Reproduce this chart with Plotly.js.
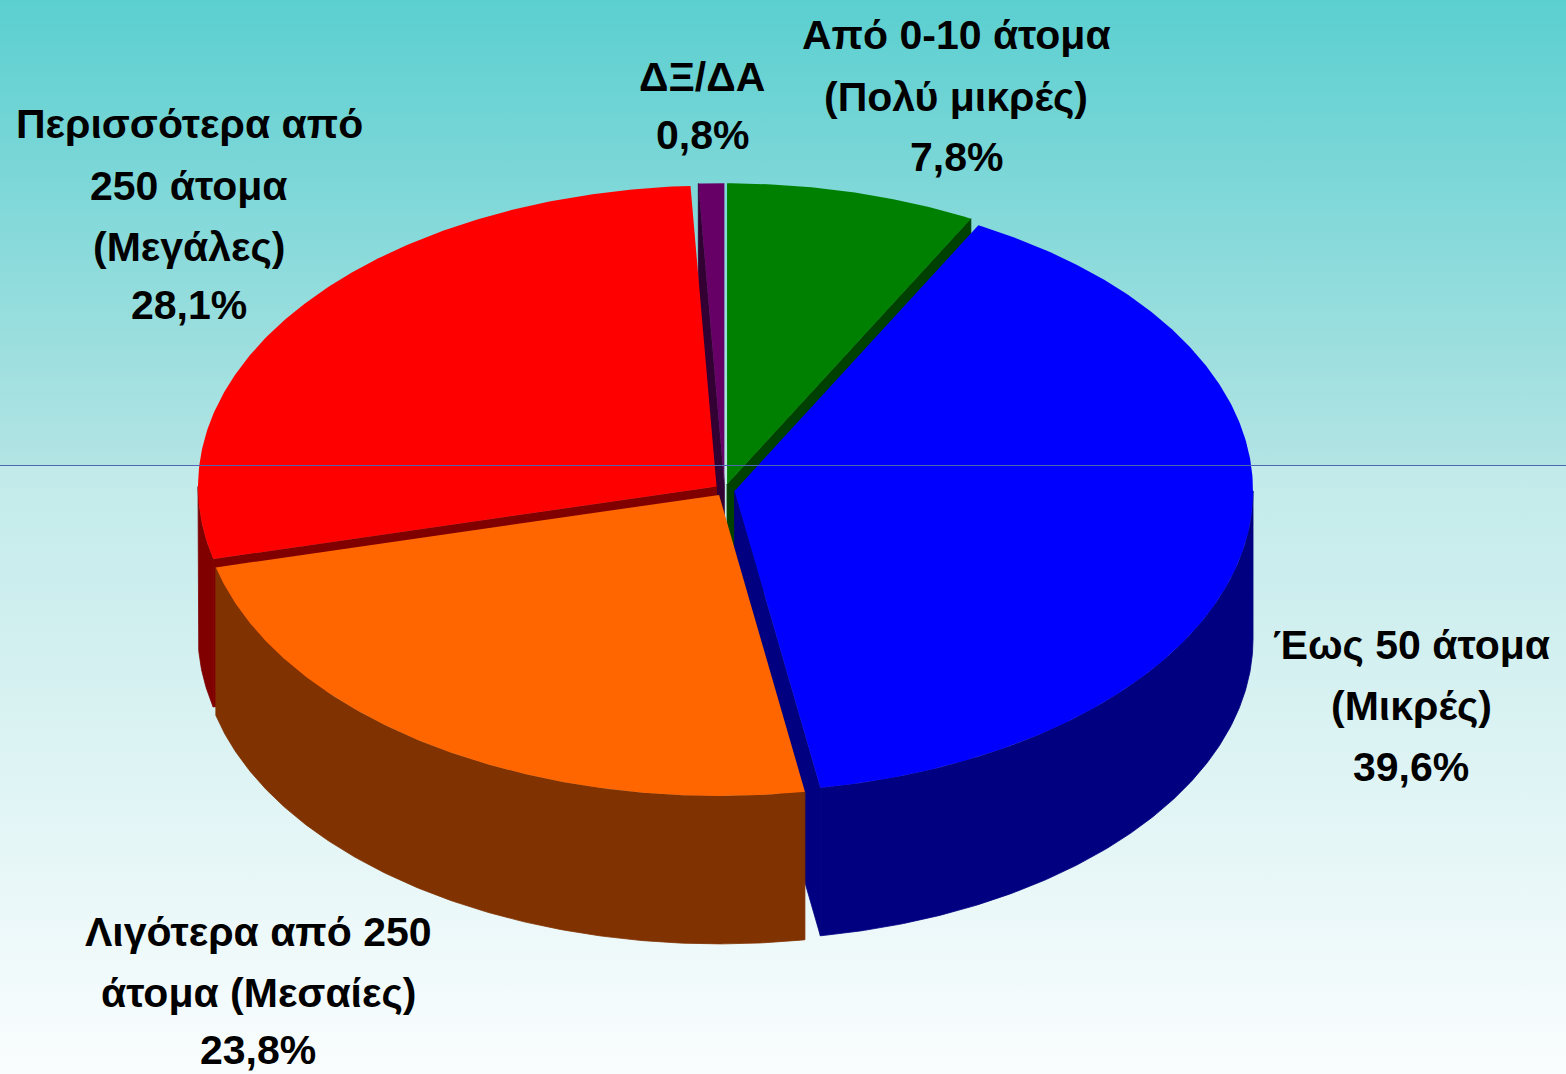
<!DOCTYPE html>
<html><head><meta charset="utf-8">
<script src="https://cdn.plot.ly/plotly-3.0.1.min.js"></script>
<style>
html,body{margin:0;padding:0;overflow:hidden;}
#chart{width:1566px;height:1074px;background:linear-gradient(to bottom,#5bcfd0 0px,#b3e4e4 465px,#c2eaea 466px,#fafdfe 1074px);}
</style></head><body><div id="chart"></div>
<script>
// ---- data ----
const categories = ['Από 0-10 άτομα (Πολύ μικρές)','Έως 50 άτομα (Μικρές)','Λιγότερα από 250 άτομα (Μεσαίες)','Περισσότερα από 250 άτομα (Μεγάλες)','ΔΞ/ΔΑ'];
const values = [7.8, 39.6, 23.8, 28.1, 0.8];
const labelLines = [['Από 0-10 άτομα','(Πολύ μικρές)'],['Έως 50 άτομα','(Μικρές)'],['Λιγότερα από 250','άτομα (Μεσαίες)'],['Περισσότερα από','250 άτομα','(Μεγάλες)'],['ΔΞ/ΔΑ']];
const topColors = ['#008000','#0000ff','#ff6600','#ff0000','#660066'];
const sideColors = ['#004000','#000080','#803300','#800000','#330033'];

// ---- layout constants (pixel units on hidden axes) ----
const cx = 724.6, cy = 490, rx = 518.5, ry = 301, depth = 148, explode = 0.0194;
const labelPos = [
  {x:956, y:[35,97,157]},
  {x:1411, y:[645,706,767]},
  {x:258, y:[932,993,1050]},
  {x:189, y:[124,186,247,305]},
  {x:702, y:[77,135]}
];

const total = values.reduce((a,b)=>a+b,0);
const TWO_PI = Math.PI*2;
const slices = [];
let cum = 0;
values.forEach((v,i)=>{
  const t0 = TWO_PI*cum/total, t1 = TWO_PI*(cum+v)/total;
  const mid = (t0+t1)/2;
  slices.push({i, t0, t1, dx: explode*rx*Math.sin(mid), dy: -explode*ry*Math.cos(mid)});
  cum += v;
});

function pt(s, t, down){ return [cx+s.dx+rx*Math.sin(t), cy+s.dy-ry*Math.cos(t)+down]; }
function arc(s, a, b, down){
  const n = Math.max(2, Math.ceil((b-a)/(Math.PI/360))+1);
  const out = [];
  for(let k=0;k<n;k++){ out.push(pt(s, a+(b-a)*k/(n-1), down)); }
  return out;
}
function poly(points, fill, lineW, lineC){
  return {type:'scatter', mode:'lines', x:points.map(p=>p[0]), y:points.map(p=>p[1]),
    fill:'toself', fillcolor:fill, line:{width:lineW, color:lineC||fill},
    hoverinfo:'skip', showlegend:false};
}

const radial = [], outer = [], tops = [];
slices.forEach(s=>{
  const apex = [cx+s.dx, cy+s.dy];
  const apexD = [apex[0], apex[1]+depth];
  // radial faces
  if (Math.sin(s.t0) < -1e-6) {
    radial.push({key: Math.cos(s.t0), tr: poly([apex, pt(s,s.t0,0), pt(s,s.t0,depth), apexD, apex], sideColors[s.i], 0.8)});
  }
  if (Math.sin(s.t1) > 1e-6) {
    radial.push({key: Math.cos(s.t1), tr: poly([apex, pt(s,s.t1,0), pt(s,s.t1,depth), apexD, apex], sideColors[s.i], 0.8)});
  }
  // outer face
  const a = Math.max(s.t0, Math.PI/2), b = Math.min(s.t1, 3*Math.PI/2);
  if (b > a) {
    const p = arc(s,a,b,0).concat(arc(s,a,b,depth).reverse());
    p.push(p[0]);
    outer.push(poly(p, sideColors[s.i], 0.8));
  }
  // top face
  const tp = [apex].concat(arc(s,s.t0,s.t1,0)); tp.push(apex);
  tops.push(poly(tp, topColors[s.i], 0));
});
radial.sort((p,q)=>q.key-p.key);
const traces = radial.map(r=>r.tr).concat(outer, tops);

const fmt = v => v.toFixed(1).replace('.', ',') + '%';
const annotations = [];
labelLines.forEach((lines,i)=>{
  const all = lines.concat([fmt(values[i])]);
  all.forEach((txt,j)=>{
    annotations.push({x: labelPos[i].x, y: labelPos[i].y[j], xref:'x', yref:'y', text: txt,
      showarrow:false, xanchor:'center', yanchor:'middle',
      font:{family:'Liberation Sans, Arial, sans-serif', size:41, color:'#000000', weight:'bold'}});
  });
});

const layout = {
  width:1566, height:1074, margin:{l:0,r:0,t:0,b:0,pad:0},
  paper_bgcolor:'rgba(0,0,0,0)', plot_bgcolor:'rgba(0,0,0,0)',
  xaxis:{range:[0,1566], visible:false, fixedrange:true},
  yaxis:{range:[1074,0], visible:false, fixedrange:true},
  showlegend:false,
  annotations: annotations,
  shapes:[{type:'line', xref:'paper', x0:0, x1:1, yref:'y', y0:465.5, y1:465.5, line:{color:'#4f66b0', width:1}, layer:'above'}]
};
Plotly.newPlot('chart', traces, layout, {displayModeBar:false, staticPlot:true});
</script></body></html>
